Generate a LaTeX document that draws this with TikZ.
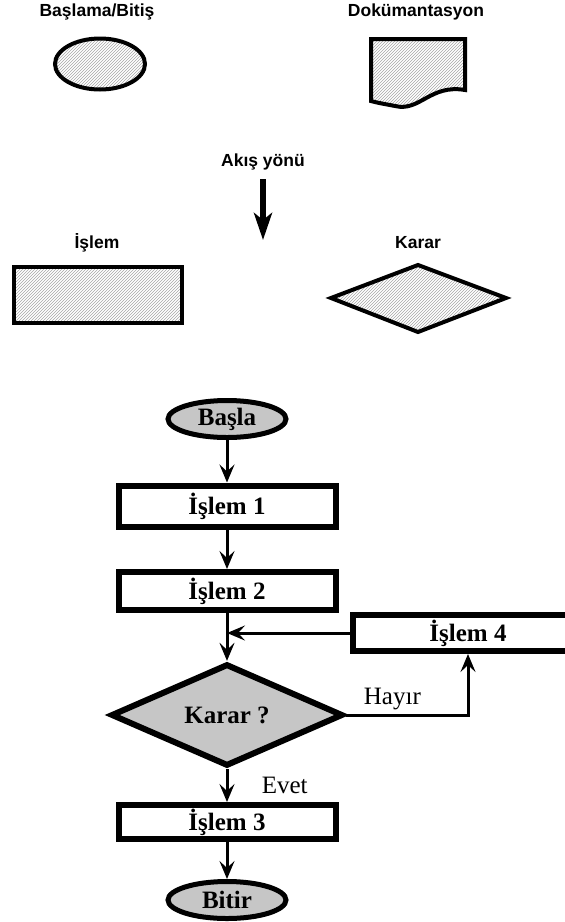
\documentclass[tikz,border=0pt]{standalone}
\usepackage{fontspec}
\setmainfont{Liberation Serif}
\setsansfont{Liberation Sans}
\usetikzlibrary{shapes.geometric,arrows.meta,patterns}

\tikzset{
    legshape/.style={line width=4pt, pattern=north east lines, pattern color=gray!70},
    leglabel/.style={font=\sffamily\bfseries\fontsize{17.5}{20}\selectfont},
    box/.style={draw, line width=6pt, minimum width=217pt, minimum height=40pt, inner sep=0pt,
        font=\bfseries\fontsize{25}{29}\selectfont},
    term/.style={ellipse, draw, line width=5pt, fill=gray!45, minimum width=118pt, minimum height=37pt,
        inner sep=0pt, font=\bfseries\fontsize{25}{29}\selectfont},
    decide/.style={diamond, draw, line width=6pt, fill=gray!45, minimum width=232pt, minimum height=84pt,
        inner sep=0pt, font=\bfseries\fontsize{25}{29}\selectfont},
    flow/.style={line width=3pt, -{Stealth[length=18pt,width=15pt,inset=7pt]}},
    answer/.style={font=\fontsize{25}{29}\selectfont}
}

\begin{document}
\begin{tikzpicture}[x=1pt, y=-1pt]
    \useasboundingbox (0,0) rectangle (565,922);
    % legend
    \node[leglabel] (tbasla) at (97,12) {Başlama/Bitiş};
    \draw[legshape] (100,64) ellipse [x radius=45pt, y radius=25.5pt];
    \node[leglabel] (tdok) at (416,12) {Dokümantasyon};
    \draw[legshape] (371,39) -- (465,39) -- (465,90)
        .. controls (430,84) and (420,112) .. (395,106)
        .. controls (385,104) and (378,103) .. (371,101) -- cycle;
    \node[leglabel] (takis) at (263,162) {Akış yönü};
    \draw[line width=6pt, -{Stealth[length=27pt,width=18pt,inset=7pt]}] (263,179) -- (263,240);
    \node[leglabel] (tislem) at (97,243) {İşlem};
    \draw[legshape] (14,267) rectangle (182,323);
    \node[leglabel] (tkarar) at (418,243) {Karar};
    \draw[legshape] (331,298) -- (418,265) -- (506,298) -- (418,332) -- cycle;

    % flowchart
    \node[term] (basla) at (227,419) {Başla};
    \node[box, minimum height=41pt] (i1) at (227,506) {İşlem 1};
    \node[box, minimum height=38pt] (i2) at (227,591) {İşlem 2};
    \node[box, minimum width=230pt, minimum height=36pt] (i4) at (468,633) {İşlem 4};
    \node[decide] (karar) at (227,715) {Karar ?};
    \node[box, minimum height=34pt] (i3) at (227,822) {İşlem 3};
    \node[term] (bitir) at (227,900) {Bitir};

    \draw[flow] (basla) -- (i1);
    \draw[flow] (i1) -- (i2);
    \draw[flow] (i2) -- (karar);
    \draw[flow] (i4.west) -- (i2.south |- i4.west);
    \draw[flow] (karar.east) -| (i4.south) node[answer, pos=0.19, above] {Hayır};
    \draw[flow] (karar) -- (i3) node[answer, midway, right=30pt] {Evet};
    \draw[flow] (i3) -- (bitir);
\end{tikzpicture}
\end{document}
